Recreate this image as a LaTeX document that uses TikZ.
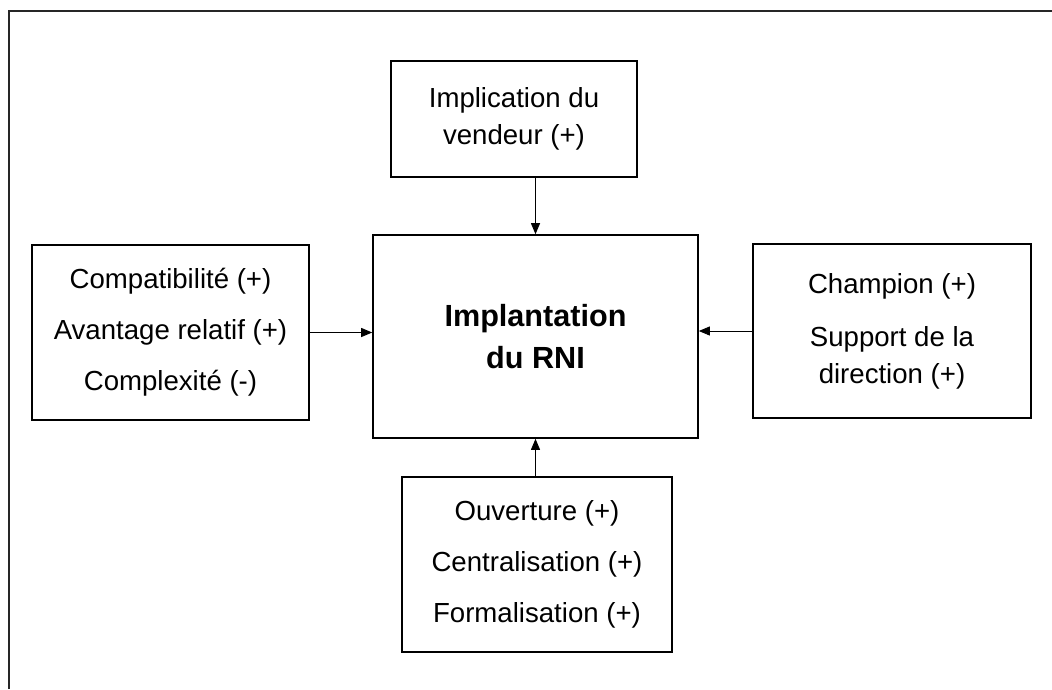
\documentclass[tikz,border=0pt]{standalone}
\usepackage{fontspec}
\setmainfont{Liberation Sans}
\usetikzlibrary{arrows.meta}
\begin{document}
\begin{tikzpicture}[x=1pt,y=-1pt,
  factor/.style={draw=black,line width=1.3pt,inner sep=0pt,align=center,
    font=\fontsize{27.6}{37}\selectfont},
  core/.style={draw=black,line width=1.6pt,inner sep=0pt,align=center,
    font=\fontsize{30.6}{42}\selectfont\bfseries},
  link/.style={draw=black,line width=0.9pt,-{Triangle[length=11pt,width=9pt]}}
]
\useasboundingbox (0,0) rectangle (1052,689);
% outer frame (top and left edges only)
\draw[line width=1.8pt,black!85] (9,689) -- (9,11) -- (1052,11);

% central box
\node[core,minimum width=325pt,minimum height=203pt] (rni) at (535.5,336.5)
  {Implantation\\du RNI};

% surrounding factor boxes
\node[factor,minimum width=246pt,minimum height=116pt] (vend) at (514,119)
  {Implication du\\vendeur (+)};
\node[factor,minimum width=277pt,minimum height=175pt] (tech) at (170.5,332.5)
  {Compatibilité (+)\\[14pt]Avantage relatif (+)\\[14pt]Complexité (-)};
\node[factor,minimum width=278pt,minimum height=174pt] (org) at (892,331)
  {Champion (+)\\[16pt]Support de la\\direction (+)};
\node[factor,minimum width=270pt,minimum height=175pt] (struct) at (537,564.5)
  {Ouverture (+)\\[14pt]Centralisation (+)\\[14pt]Formalisation (+)};

% influences on the implementation
\draw[link] (rni.north |- vend.south) -- (rni.north);
\draw[link] (tech.east) -- (tech.east -| rni.west);
\draw[link] (org.west) -- (org.west -| rni.east);
\draw[link] (rni.south |- struct.north) -- (rni.south);
\end{tikzpicture}
\end{document}
